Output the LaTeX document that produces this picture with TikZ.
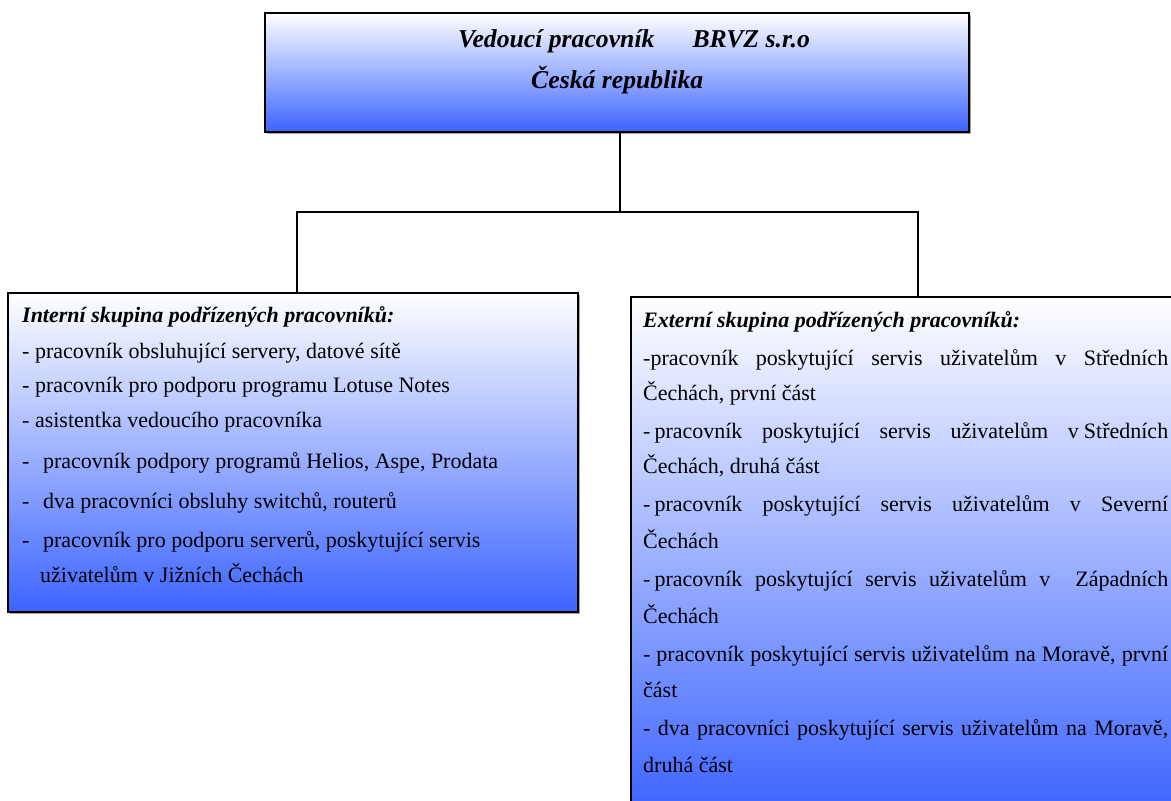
\documentclass[tikz,border=0pt]{standalone}
\usepackage{fontspec}
\setmainfont{Liberation Serif}
\usetikzlibrary{shadows}
\definecolor{boxblue}{RGB}{60,100,255}
\begin{document}
\begin{tikzpicture}[x=1pt,y=-1pt,
  box/.style={draw=black, line width=2pt, top color=white, bottom color=boxblue,
    inner sep=0pt, rectangle,
    drop shadow={shadow xshift=2pt, shadow yshift=-2pt, fill=black!35, opacity=1}},
  conn/.style={draw=black, line width=1.8pt},
  txt/.style={anchor=base west, inner sep=0pt, font=\fontsize{22}{26}\selectfont},
  hd/.style={anchor=base west, inner sep=0pt, font=\fontsize{22}{26}\selectfont\bfseries\itshape},
  title/.style={anchor=base west, inner sep=0pt, font=\fontsize{25.7}{30}\selectfont\bfseries\itshape}]
\useasboundingbox (0,0) rectangle (1171,801);
\clip (0,0) rectangle (1171,801);
\fill[white] (0,0) rectangle (1171,801);

% boxes
\node[box, minimum width=704pt, minimum height=119pt] (top) at (617,72.5) {};
\node[box, minimum width=570pt, minimum height=319pt] (int) at (293,452.5) {};
\node[box, minimum width=564pt, minimum height=518pt] (ext) at (913,556) {};

% connectors
\coordinate (hub) at (620,212);
\coordinate (hl) at (297,212);
\coordinate (hr) at (918,212);
\draw[conn] (top.south -| hub) -- (hub);
\draw[conn, line cap=rect] (hl) -- (hr);
\draw[conn] (hl) -- (int.north -| hl);
\draw[conn] (hr) -- (ext.north -| hr);

% top box text
\node[title] (t1) at (458,47) {Vedoucí pracovník\hspace{38pt}BRVZ s.r.o};
\node[title] (t2) at (531,88) {Česká republika};

% internal group
\node[hd]  (i0) at (22,322) {Interní skupina podřízených pracovníků:};
\node[txt] (i1) at (22,358) {- pracovník obsluhující servery, datové sítě};
\node[txt] (i2) at (22,392) {- pracovník pro podporu programu Lotuse Notes};
\node[txt] (i3) at (22,427) {- asistentka vedoucího pracovníka};
\node[txt] (i4) at (22,468) {-\hspace{13.5pt}pracovník podpory programů Helios, Aspe, Prodata};
\node[txt] (i5) at (22,508) {-\hspace{13.5pt}dva pracovníci obsluhy switchů, routerů};
\node[txt] (i6) at (22,547) {-\hspace{13.5pt}pracovník pro podporu serverů, poskytující servis};
\node[txt] (i7) at (40,582) {uživatelům v Jižních Čechách};

% external group
\node[hd]  (e0)  at (643,327) {Externí skupina podřízených pracovníků:};
\node[txt] (e1)  at (643,365) {\makebox[525pt][s]{-pracovník poskytující servis uživatelům v Středních}};
\node[txt] (e2)  at (643,400) {Čechách, první část};
\node[txt] (e3)  at (643,438) {\makebox[525pt][s]{-\hspace{4pt}pracovník poskytující servis uživatelům v\hspace{5pt}Středních}};
\node[txt] (e4)  at (643,473) {Čechách, druhá část};
\node[txt] (e5)  at (643,511) {\makebox[525pt][s]{-\hspace{4pt}pracovník poskytující servis uživatelům v Severní}};
\node[txt] (e6)  at (643,548) {Čechách};
\node[txt] (e7)  at (643,586) {\makebox[525pt][s]{-\hspace{4pt}pracovník poskytující servis uživatelům v\ \ Západních}};
\node[txt] (e8)  at (643,623) {Čechách};
\node[txt] (e9)  at (643,661) {\makebox[525pt][s]{- pracovník poskytující servis uživatelům na Moravě, první}};
\node[txt] (e10) at (643,697) {část};
\node[txt] (e11) at (643,735) {\makebox[525pt][s]{- dva pracovníci poskytující servis uživatelům na Moravě,}};
\node[txt] (e12) at (643,772) {druhá část};
\end{tikzpicture}
\end{document}
